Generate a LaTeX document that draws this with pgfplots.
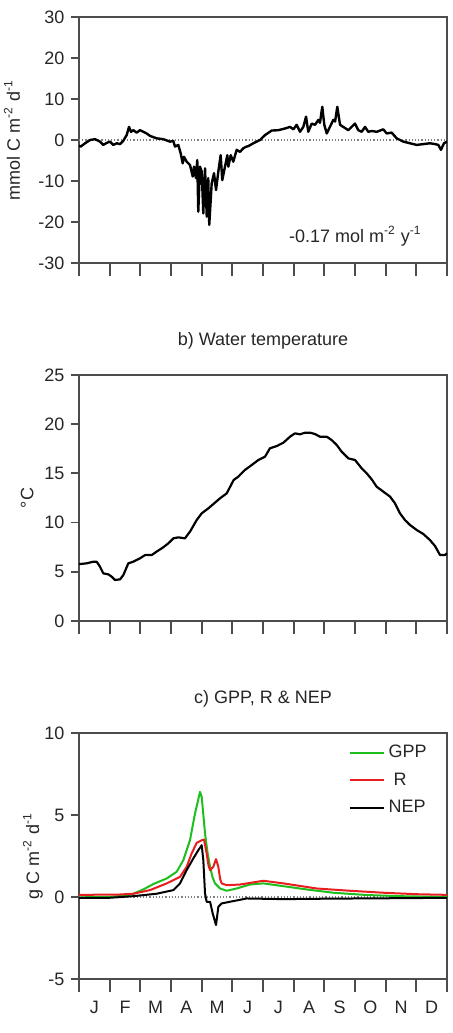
\documentclass[border=0pt]{standalone}
\usepackage{fontspec}
\setmainfont{Liberation Sans}
\usepackage{pgfplots}
\pgfplotsset{compat=1.18}
\definecolor{gppgreen}{RGB}{30,190,30}
\definecolor{rred}{RGB}{232,30,30}
\pgfplotsset{
  panel/.style={
    scale only axis, width=184pt, height=123pt,
    xmin=0, xmax=365,
    anchor=south west,
    axis line style={black!70, line width=0.9pt},
    tick pos=left, tick align=outside,
    major tick length=3.8pt,
    every tick/.append style={black!70, line width=0.9pt},
    xtick=\empty,
    extra x ticks={0,30.4167,60.8333,91.25,121.6667,152.0833,182.5,212.9167,243.3333,273.75,304.1667,334.5833,365},
    extra x tick labels={},
    extra x tick style={major tick length=6.5pt, grid=none},
    font=\fontsize{9}{10.8}\selectfont,
    tick label style={font=\fontsize{9}{10.8}\selectfont, text=black!85},
    label style={font=\fontsize{9}{10.8}\selectfont, text=black!85},
    title style={font=\fontsize{9}{10.8}\selectfont, text=black!85, at={(axis description cs:0.5,1)}, anchor=center, yshift=11pt},
    /pgf/number format/assume math mode=true,
  }
}
\begin{document}
\begin{tikzpicture}
\path[use as bounding box] (0,0) rectangle (226pt,516.5pt);
% ---------- panel a ----------
\begin{axis}[panel, at={(39.5pt,385pt)},
  ymin=-30, ymax=30, ytick={-30,-20,...,30},
  ylabel={mmol C m\textsuperscript{-2} d\textsuperscript{-1}},
  ylabel style={at={(axis description cs:-0.182,0.5)}, anchor=center}]
\addplot[gray, densely dotted, line width=0.6pt, forget plot] coordinates {(0,0) (365,0)};
\addplot[black, line width=1.2pt, line join=round] coordinates {
(0,-1.4) (1.7,-1.6) (6,-0.8) (10.9,0) (15.9,0.2) (20.8,-0.4) (24.1,-1.2) (27.5,-0.7)
(30.7,-0.4) (34,-1.2) (37.4,-0.8) (40.7,-1.0) (43.9,-0.2) (47.3,1.2) (49.6,3.2) (51.6,2.0)
(53.9,2.4) (57.2,1.8) (60.5,2.4) (63.8,2.0) (67.1,1.6) (70.4,1.0) (77.1,0.4) (83.6,0.2)
(90.3,-0.4) (93.5,-0.2) (95.2,-1.6) (98.5,-1.2) (100.9,-3.3) (102.9,-5.7) (104.1,-4.1)
(106.8,-5.3) (110.1,-6.1) (112.8,-8.9) (114.1,-6.5) (116,-9.3) (117.3,-4.9) (118.3,-17.5)
(120,-6.5) (121.7,-7.7) (123.3,-17.9) (125,-6.9) (126.7,-18.7) (128.2,-9.3) (129.2,-20.7)
(131.6,-10.6) (133.9,-8.1) (135.9,-12.2) (138.2,-7.7) (140.5,-3.7) (142.1,-9.8) (144.8,-6.5)
(147.1,-3.7) (148.1,-6.5) (150.5,-3.7) (153,-5.3) (156.4,-2.4) (159.7,-2.9) (163,-2.0)
(166.3,-1.6) (167.9,-1.5) (172.9,-0.8) (177.8,-0.2) (179.5,0) (184.5,1.2) (191.1,2.3)
(197.7,2.4) (204.3,2.8) (209.3,3.2) (212.6,2.6) (215.9,3.7) (219.2,2.0) (222.5,3.2)
(225.2,5.7) (227.4,2.0) (230.8,4.0) (234.1,3.7) (237.4,4.9) (239,4.2) (241.3,8.1)
(243.3,3.7) (245.7,1.6) (248.9,3.2) (252.2,4.9) (254,4.5) (256.2,8.1) (258.9,3.7)
(262.1,3.2) (267.1,2.4) (273.7,4.0) (277,2.4) (280.4,2.0) (283.7,3.2) (286.9,2.0)
(290.3,2.2) (295.3,2.0) (301.8,2.6) (305.2,1.6) (310.1,1.8) (315.1,0.4) (321.7,-0.4)
(328.3,-0.8) (334.9,-1.2) (341.5,-1.0) (348.1,-0.8) (353.1,-1.0) (356.4,-1.2) (359,-2.4)
(362,-0.8) (365,-0.4)};
\node[font=\fontsize{9}{10.8}\selectfont, text=black!85] at (axis cs:274,-23.5) {-0.17 mol m\textsuperscript{-2} y\textsuperscript{-1}};
\end{axis}
% ---------- panel b ----------
\begin{axis}[panel, at={(39.5pt,206pt)},
  ymin=0, ymax=25, ytick={0,5,...,25},
  title={b) Water temperature},
  ylabel={°C},
  ylabel style={at={(axis description cs:-0.141,0.5)}, anchor=center}]
\addplot[black, line width=1.1pt, line join=round] coordinates {
(0,5.8) (1,5.79) (7.6,5.86) (14.2,6.03) (17.5,6.03) (20.8,5.52) (24.1,4.84) (29.1,4.74)
(32.4,4.5) (35.7,4.17) (40.7,4.23) (44,4.67) (48.9,5.86) (53.9,6.03) (60.5,6.37) (65.5,6.7)
(72.1,6.7) (77,7.05) (83.6,7.49) (88.6,7.89) (93.6,8.4) (98.5,8.5) (105.1,8.4) (110.1,9.08)
(116.7,10.26) (121.7,10.94) (128.3,11.45) (134.9,12.03) (139.9,12.47) (146.5,12.97)
(153.4,14.33) (158,14.67) (164.6,15.35) (171.3,15.85) (177.9,16.36) (184.5,16.7)
(189.4,17.55) (196.1,17.78) (202.7,18.12) (209.3,18.73) (214.2,19.07) (219.2,18.97)
(224.2,19.14) (229.1,19.14) (234.1,19.0) (239,18.73) (245.7,18.73) (250.6,18.39)
(255.6,17.89) (260.5,17.21) (267.1,16.53) (273.8,16.36) (280.4,15.51) (285.3,15.01)
(290.3,14.4) (295.2,13.65) (301.9,13.14) (308.5,12.64) (313.4,11.96) (318.4,10.94)
(323.3,10.26) (328.3,9.76) (334.9,9.25) (341.5,8.84) (348.1,8.23) (353.1,7.62)
(358.1,6.7) (363,6.7) (365,6.88)};
\end{axis}
% ---------- panel c ----------
\begin{axis}[panel, at={(39.5pt,27pt)},
  ymin=-5, ymax=10, ytick={-5,0,5,10},
  xtick={15.21,45.63,76.04,106.46,136.88,167.29,197.71,228.13,258.54,288.96,319.38,349.79},
  xticklabels={J,F,M,A,M,J,J,A,S,O,N,D},
  major x tick style={draw=none},
  extra x tick style={major x tick style={draw=black!70}},
  xticklabel style={yshift=-3.5pt},
  title={c) GPP, R \& NEP},
  ylabel={g C m\textsuperscript{-2} d\textsuperscript{-1}},
  ylabel style={at={(axis description cs:-0.125,0.5)}, anchor=center},
  legend style={draw=none, fill=none, at={(axis description cs:0.715,0.985)}, anchor=north west,
    font=\fontsize{9}{10.8}\selectfont, text=black!85, row sep=2pt},
  legend cell align=left]
\addplot[gray, densely dotted, line width=0.6pt, forget plot] coordinates {(0,0) (365,0)};
\addplot[gppgreen, line width=1pt, line join=round] coordinates {
(0,-0.02) (30,0) (45,0.08) (53.9,0.2) (63.8,0.46) (73.7,0.79) (87,1.13) (96.9,1.54)
(103.5,2.25) (110.1,3.47) (115.1,5.1) (118.5,6.0) (120,6.41) (121.7,6.1) (123.5,4.9)
(125,3.87) (127.5,2.7) (130,1.84) (132.5,1.2) (134.9,0.83) (139.9,0.52) (146.5,0.38)
(156.4,0.52) (169.6,0.76) (182.8,0.83) (202.7,0.66) (225.8,0.46) (252.3,0.26)
(285.3,0.12) (318.4,0.05) (365,0.0)};
\addlegendentry{GPP}
\addplot[rred, line width=1pt, line join=round] coordinates {
(0,0.13) (40,0.15) (53.9,0.2) (70.4,0.42) (87,0.83) (100.2,1.23) (106.8,1.84) (111.7,2.65)
(116.7,3.3) (121.7,3.46) (124,3.5) (126.6,2.65) (128.5,1.9) (130,1.64) (133.2,1.84)
(135.9,2.31) (138.2,1.84) (140,1.1) (141.5,0.83) (146.5,0.72) (159.7,0.76) (182.8,0.99)
(202.7,0.83) (235.7,0.52) (268.8,0.38) (301.9,0.26) (334.9,0.17) (365,0.13)};
\addlegendentry{\ R}
\addplot[black, line width=1pt, line join=round] coordinates {
(0,-0.05) (30,-0.05) (53.9,0.05) (77,0.2) (93.6,0.42) (100.2,0.83) (106.8,1.64)
(113.4,2.35) (118.4,2.86) (121.7,3.16) (123.3,2.25) (125,0.22) (126.6,-0.29) (130,-0.29)
(132.6,-1.0) (135.9,-1.71) (138.2,-0.6) (141.5,-0.39) (149.8,-0.29) (166.3,-0.09)
(202.7,-0.13) (250,-0.1) (300,-0.08) (365,-0.05)};
\addlegendentry{NEP}
\end{axis}
\end{tikzpicture}
\end{document}
